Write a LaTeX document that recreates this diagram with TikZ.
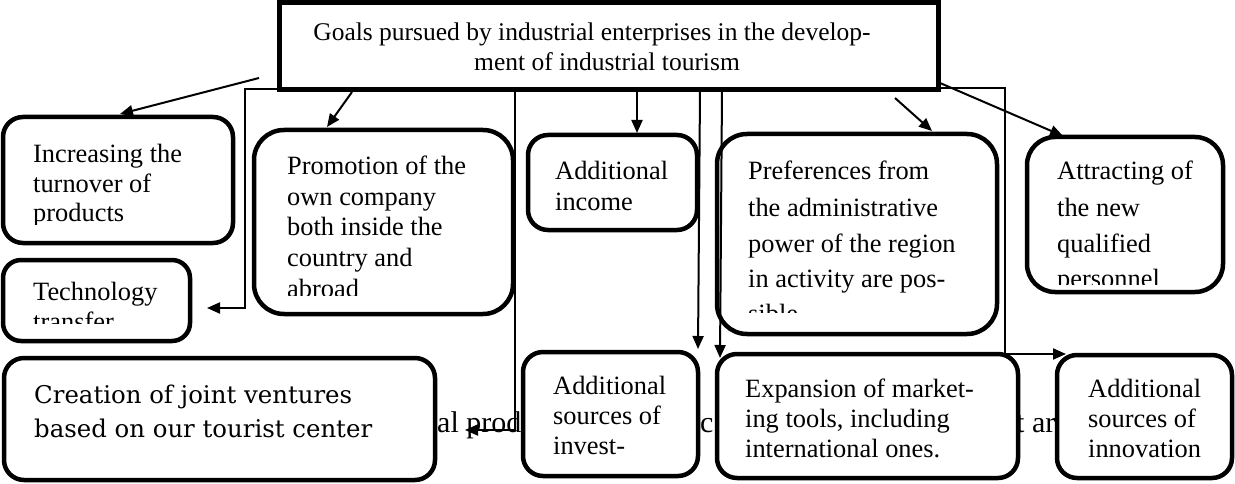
\documentclass[tikz,border=0pt]{standalone}
\usepackage{fontspec}
\setmainfont{Liberation Serif}
\newfontfamily\camfont{DejaVu Serif}
\usetikzlibrary{arrows.meta}
\begin{document}
\begin{tikzpicture}[x=1pt,y=-1pt,
  rbox/.style={draw, line width=4.5pt, fill=white, rounded corners=#1, inner sep=0pt},
  topbox/.style={draw, line width=5pt, fill=white, inner sep=0pt},
  txt/.style={inner sep=0pt, anchor=base west, font=\fontsize{26.4}{30}\selectfont},
  toptxt/.style={inner sep=0pt, anchor=base, font=\fontsize{25.5}{30}\selectfont},
  camtxt/.style={inner sep=0pt, anchor=base west, font=\camfont\fontsize{24.4}{30}\selectfont},
  hidtxt/.style={inner sep=0pt, anchor=base west, font=\fontsize{30}{34}\selectfont},
  arr/.style={line width=2pt, -{Triangle[length=13pt,width=11pt]}}]
\fill[white] (0,0) rectangle (1235,484);
\useasboundingbox (0,0) rectangle (1235,484);
% partly hidden text line behind the boxes
\node[hidtxt] (h1) at (437,432) {al prod};
\node[hidtxt] (h2) at (700,432) {c};
\node[hidtxt] (h3) at (1016,432) {t ar};
% boxes
\node[topbox, minimum width=659pt, minimum height=87pt] (G) at (608.5,46.5) {};
\node[rbox=20pt, minimum width=230pt, minimum height=126pt] (A) at (118,180) {};
\node[rbox=30pt, minimum width=259pt, minimum height=184pt] (B) at (383.5,222) {};
\node[rbox=20pt, minimum width=169pt, minimum height=95pt] (C) at (612.5,182.5) {};
\node[rbox=30pt, minimum width=280pt, minimum height=200pt] (D) at (857,234) {};
\node[rbox=28pt, minimum width=196pt, minimum height=155pt] (E) at (1125,214.5) {};
\node[rbox=18pt, minimum width=187pt, minimum height=81pt] (T) at (96.5,300.5) {};
\node[rbox=20pt, minimum width=431pt, minimum height=122pt] (J) at (219.5,419) {};
\node[rbox=20pt, minimum width=175pt, minimum height=124pt] (I) at (610.5,414) {};
\node[rbox=20pt, minimum width=301pt, minimum height=124pt] (X) at (867.5,416) {};
\node[rbox=20pt, minimum width=175pt, minimum height=123pt] (N) at (1144.5,416.5) {};
% texts
\node[toptxt] (G1) at (592,41) {Goals pursued by industrial enterprises in the develop-};
\node[toptxt] (G2) at (607,71) {ment of industrial tourism};
\begin{scope}
\clip (0,100) rectangle (240,224);
\node[txt] (A1) at (33,163) {Increasing the};
\node[txt] (A2) at (33,192.5) {turnover of};
\node[txt] (A3) at (33,222) {products};
\end{scope}
\begin{scope}
\clip (250,120) rectangle (520,295);
\node[txt] (B1) at (287,175) {Promotion of the};
\node[txt] (B2) at (287,205.5) {own company};
\node[txt] (B3) at (287,236) {both inside the};
\node[txt] (B4) at (287,266.5) {country and};
\node[txt] (B5) at (287,297) {abroad};
\end{scope}
\node[txt] (C1) at (555,180) {Additional};
\node[txt] (C2) at (555,211) {income};
\begin{scope}
\clip (710,120) rectangle (1000,312);
\node[txt] (D1) at (748,180) {Preferences from};
\node[txt] (D2) at (748,216) {the administrative};
\node[txt] (D3) at (748,252) {power of the region};
\node[txt] (D4) at (748,287) {in activity are pos-};
\node[txt] (D5) at (748,322) {sible};
\end{scope}
\begin{scope}
\clip (1020,120) rectangle (1230,284);
\node[txt] (E1) at (1057,180) {Attracting of};
\node[txt] (E2) at (1057,216) {the new};
\node[txt] (E3) at (1057,252) {qualified};
\node[txt] (E4) at (1057,287) {personnel};
\end{scope}
\begin{scope}
\clip (0,250) rectangle (195,323);
\node[txt] (T1) at (33,300) {Technology};
\node[txt] (T2) at (33,330) {transfer};
\end{scope}
\node[camtxt] (J1) at (34,403) {Creation of joint ventures};
\node[camtxt] (J2) at (34,437) {based on our tourist center};
\node[txt] (I1) at (553,394) {Additional};
\node[txt] (I2) at (553,424) {sources of};
\node[txt] (I3) at (553,454) {invest-};
\node[txt] (X1) at (745,397) {Expansion of market-};
\node[txt] (X2) at (745,427) {ing tools, including};
\node[txt] (X3) at (745,457) {international ones.};
\node[txt] (N1) at (1088,397) {Additional};
\node[txt] (N2) at (1088,427) {sources of};
\node[txt] (N3) at (1088,457) {innovation};
% connector ends
\coordinate (pA) at (259,78);   \coordinate (qA) at (120,114);
\coordinate (pB) at (352,92);   \coordinate (qB) at (327,127);
\coordinate (pC) at (637,90);   \coordinate (qC) at (637,133);
\coordinate (pD) at (895,98);   \coordinate (qD) at (932,131);
\coordinate (pE) at (940,83);   \coordinate (qE) at (1063,136);
\coordinate (pT) at (279,89);   \coordinate (qT) at (207,308);
\coordinate (pH) at (515,91);   \coordinate (qH) at (465,430);
\coordinate (pI) at (700,91);   \coordinate (qI) at (698,349);
\coordinate (pX) at (722,91);   \coordinate (qX) at (720,358);
\coordinate (pN) at (938,88);   \coordinate (qN) at (1066,354);
% connectors
\draw[arr] (pA) -- (qA);
\draw[arr] (pB) -- (qB);
\draw[arr] (pC) -- (qC);
\draw[arr] (pD) -- (qD);
\draw[arr] (pE) -- (qE);
\draw[arr] (pT) -- ++(-34,0) |- (qT);
\draw[arr] (pH) |- (qH);
\draw[arr] (pI) -- (qI);
\draw[arr] (pX) -- (qX);
\draw[arr] (pN) -- ++(67,0) |- (qN);
\end{tikzpicture}
\end{document}
